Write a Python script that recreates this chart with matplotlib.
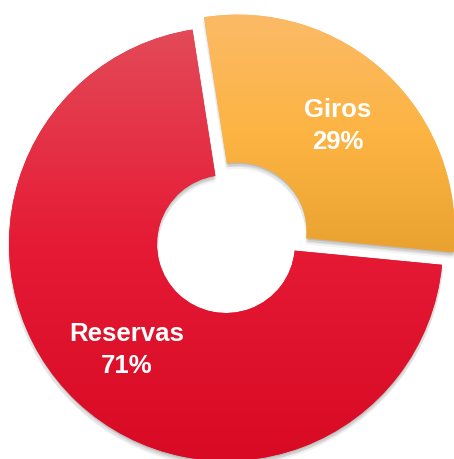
import numpy as np
import matplotlib
matplotlib.use("Agg")
import matplotlib.pyplot as plt
import matplotlib.patheffects as pe
from matplotlib.colors import LinearSegmentedColormap

# data
labels = ["Giros", "Reservas"]
values = [29, 71]
grad_stops = {
    "Giros":    ["#fbba66", "#fdb443", "#e9a22f"],
    "Reservas": ["#e34a58", "#e61a35", "#d80a24"],
}

W, H = 454, 459
fig = plt.figure(figsize=(W / 100, H / 100), dpi=100)
ax = fig.add_axes([0, 0, 1, 1])

R = 217
shadow = [pe.SimplePatchShadow(offset=o, shadow_rgbFace="k", alpha=a)
          for o, a in [((0, -1), 0.10), ((1, -2.5), 0.08), ((-1, -3), 0.06), ((0, -4.5), 0.05)]]
wedges, texts = ax.pie(values, labels=[f"{l}\n{v}%" for l, v in zip(labels, values)],
                       center=(226, 215), radius=R, startangle=-5.5, explode=[17, 0],
                       labeldistance=0.67, frame=True,
                       wedgeprops=dict(width=148, linewidth=0, edgecolor="none"),
                       textprops=dict(color="white", fontsize=18.5, fontweight="bold",
                                      family="Liberation Sans", linespacing=1.4))

for w, lab, t in zip(wedges, labels, texts):
    w.set_path_effects(shadow + [pe.Normal()])
    cmap = LinearSegmentedColormap.from_list(lab, grad_stops[lab])
    w.set_facecolor(grad_stops[lab][1])
    bb = w.get_path().get_extents(w.get_transform()).transformed(ax.transData.inverted())
    grad = np.linspace(1, 0, 256).reshape(-1, 1)
    im = ax.imshow(grad, cmap=cmap, aspect="auto", extent=[bb.x0, bb.x1, bb.y0, bb.y1],
                   origin="lower", zorder=w.get_zorder() + 0.5, interpolation="bilinear")
    im.set_clip_path(w)
    t.set_ha("center"); t.set_va("center"); t.set_zorder(5)

ax.set_xlim(0, W); ax.set_ylim(0, H)
ax.set_aspect("equal"); ax.axis("off")
fig.savefig("out.png", dpi=100, facecolor="white")
